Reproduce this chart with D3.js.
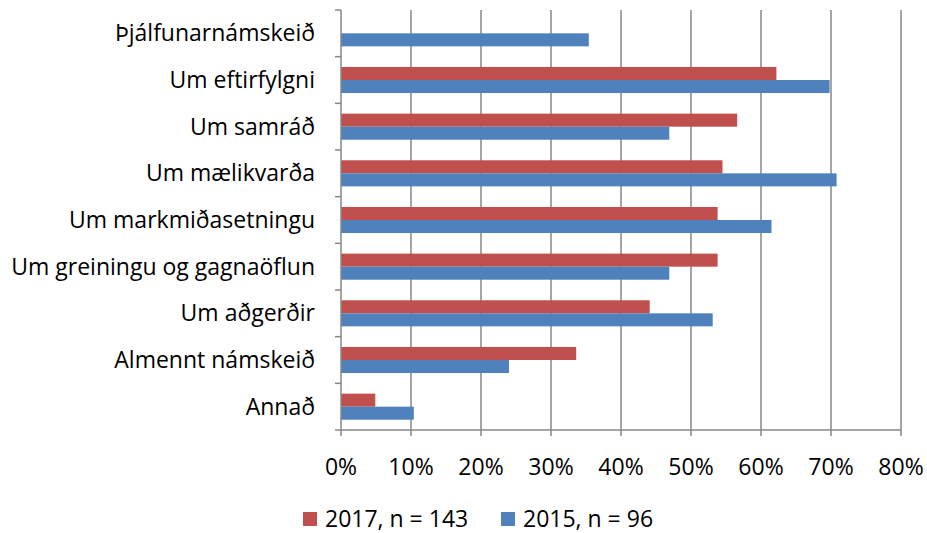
<!DOCTYPE html>
<html><head><meta charset="utf-8">
<script src="https://cdn.jsdelivr.net/npm/d3@7"></script>
<style>
html,body{margin:0;padding:0;background:#fff;}
text{font-family:"Open Sans",Lato,sans-serif;fill:#000;}
</style></head>
<body><svg id="c" width="927" height="533"></svg>
<script>
const categories = ["Þjálfunarnámskeið","Um eftirfylgni","Um samráð","Um mælikvarða","Um markmiðasetningu","Um greiningu og gagnaöflun","Um aðgerðir","Almennt námskeið","Annað"];
const values2017 = [null,62.2,56.6,54.5,53.8,53.8,44.1,33.6,4.9];
const values2015 = [35.4,69.8,46.9,70.8,61.5,46.9,53.1,24.0,10.4];
const seriesNames = ["2017, n = 143","2015, n = 96"];
const xTicks = [0,10,20,30,40,50,60,70,80];
const colors = ["#C0504D","#4F81BD"];

const svg = d3.select("#c");
const x = d3.scaleLinear().domain([0,80]).range([341,901]);
const y = d3.scaleBand().domain(categories).range([10,430]).paddingInner(0).paddingOuter(0);
const inner = d3.scaleBand().domain([0,1]).range([0,y.bandwidth()]).paddingInner(0).paddingOuter(0.79);

// gridlines
svg.append("g").selectAll("line").data(xTicks.slice(1)).join("line")
  .attr("x1",d=>x(d)).attr("x2",d=>x(d)).attr("y1",10).attr("y2",430)
  .attr("stroke","#878787").attr("stroke-width",1.5);

// bars
const series = [values2017, values2015];
series.forEach((vals,si)=>{
  svg.append("g").selectAll("rect").data(categories.map((c,i)=>({c,v:vals[i]})).filter(d=>d.v!=null)).join("rect")
    .attr("x",x(0)).attr("y",d=>y(d.c)+inner(si))
    .attr("width",d=>x(d.v)-x(0)).attr("height",inner.bandwidth())
    .attr("fill",colors[si]);
});

// y axis
const ya = svg.append("g").attr("transform","translate(341,0)");
ya.append("line").attr("x1",0).attr("x2",0).attr("y1",10).attr("y2",430).attr("stroke","#878787").attr("stroke-width",1.5);
const bounds = categories.map(c=>y(c)).concat([y.range()[1]]);
ya.selectAll("line.t").data(bounds).join("line").attr("class","t")
  .attr("x1",-6).attr("x2",0).attr("y1",d=>d).attr("y2",d=>d).attr("stroke","#878787").attr("stroke-width",1.5);
ya.selectAll("text").data(categories).join("text")
  .attr("x",-26).attr("y",d=>y(d)+y.bandwidth()/2).attr("dy","0.35em")
  .attr("text-anchor","end").attr("font-size",23).text(d=>d);

// x axis
const xa = svg.append("g").attr("transform","translate(0,430)");
xa.append("line").attr("x1",341).attr("x2",901).attr("stroke","#878787").attr("stroke-width",1.5);
xa.selectAll("line.t").data(xTicks).join("line").attr("class","t")
  .attr("x1",d=>x(d)).attr("x2",d=>x(d)).attr("y1",0).attr("y2",6).attr("stroke","#878787").attr("stroke-width",1.5);
xa.selectAll("text").data(xTicks).join("text")
  .attr("x",d=>x(d)).attr("y",37).attr("dy","0.35em").attr("text-anchor","middle").attr("font-size",23)
  .text(d=>d+"%");

// legend
const leg = svg.append("g");
const legX = [303,501];
seriesNames.forEach((n,i)=>{
  leg.append("rect").attr("x",legX[i]).attr("y",512).attr("width",14).attr("height",14).attr("fill",colors[i]);
  leg.append("text").attr("x",legX[i]+22).attr("y",518.5).attr("dy","0.35em").attr("font-size",23).text(n);
});
</script></body></html>
